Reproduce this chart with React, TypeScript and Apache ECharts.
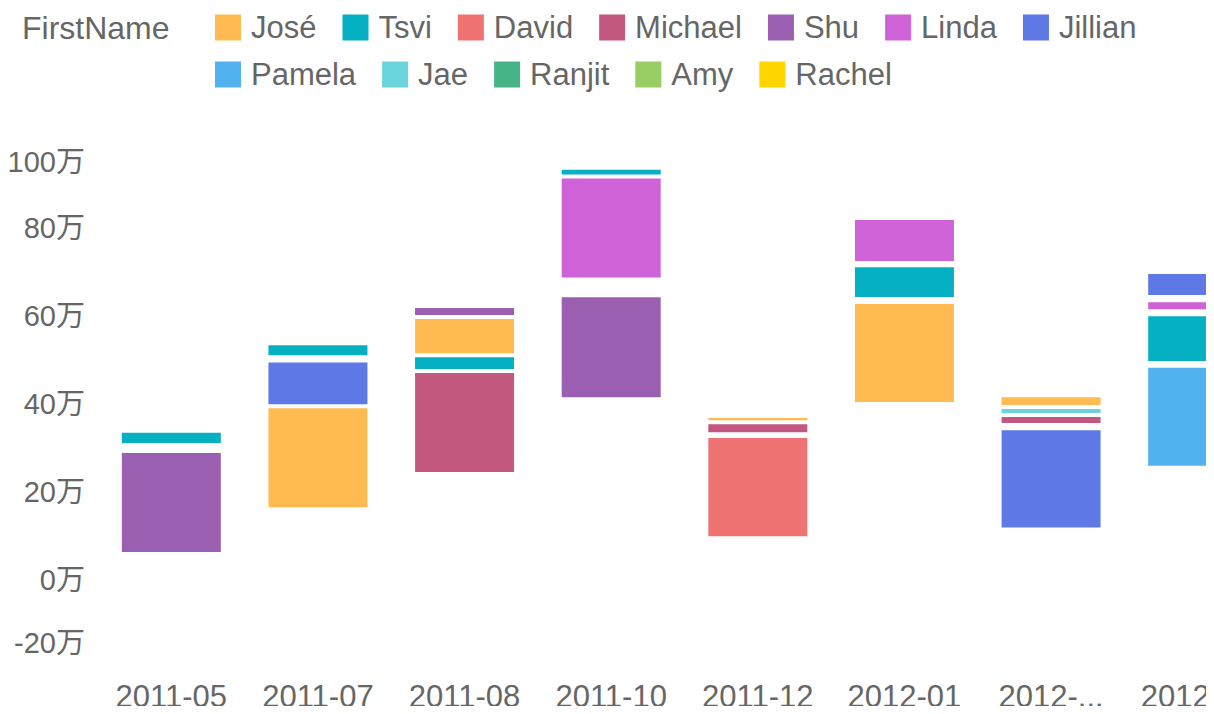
import React, { useEffect, useRef } from "react";
import * as echarts from "echarts";

const categories = ["2011-05", "2011-07", "2011-08", "2011-10", "2011-12", "2012-01", "2012-...", "2012-03"];

const persons = ["José", "Tsvi", "David", "Michael", "Shu", "Linda", "Jillian", "Pamela", "Jae", "Ranjit", "Amy", "Rachel"];
const personColors = ["#FFBB52", "#04B0C2", "#EF7373", "#C2577F", "#9A5FB1", "#CF62D6", "#5E78E6", "#52B1EF", "#6BD3DC", "#47B488", "#97CD62", "#FFD600"];

const legendRow1 = ["José", "Tsvi", "David", "Michael", "Shu", "Linda", "Jillian"];
const legendRow2 = ["Pamela", "Jae", "Ranjit", "Amy", "Rachel"];

const GAP = "gap";

// hidden offset under each stacked column (万)
const baseValues = [5.9, 16.1, 24.1, 41.1, 9.5, 40.0, 11.5, 25.5];

// stacked segments, bottom to top (万)
const stack_2011_05: [string, number][] = [["Shu", 23.4], [GAP, 1.4], ["Tsvi", 3.2]];
const stack_2011_07: [string, number][] = [["José", 23.4], ["Jillian", 10.4], [GAP, 0.7], ["Tsvi", 3.2]];
const stack_2011_08: [string, number][] = [["Michael", 23.4], ["Tsvi", 3.6], ["José", 8.7], ["Shu", 2.5]];
const stack_2011_10: [string, number][] = [["Shu", 23.6], [GAP, 3.6], ["Linda", 23.4], ["Tsvi", 2.0]];
const stack_2011_12: [string, number][] = [["David", 23.2], [GAP, 0.45], ["Michael", 2.7], ["José", 1.4]];
const stack_2012_01: [string, number][] = [["José", 23.2], [GAP, 0.65], ["Tsvi", 7.7], [GAP, 0.5], ["Linda", 10.2]];
const stack_2012_x: [string, number][] = [["Jillian", 23.0], [GAP, 0.7], ["Michael", 2.3], ["Jae", 1.8], ["José", 2.7]];
const stack_2012_03: [string, number][] = [["Pamela", 23.2], [GAP, 0.6], ["Tsvi", 11.1], [GAP, 0.7], ["Linda", 2.5], [GAP, 0.7], ["Jillian", 5.7]];

const stacks = [stack_2011_05, stack_2011_07, stack_2011_08, stack_2011_10, stack_2011_12, stack_2012_01, stack_2012_x, stack_2012_03];

const yTicks = { min: -200000, max: 1000000, interval: 200000 };

const FONT = "'Liberation Sans', 'Noto Sans CJK SC', sans-serif";
const TEXT_COLOR = "#666";

export default function App() {
  const ref = useRef<HTMLDivElement>(null);

  useEffect(() => {
    if (!ref.current) return;
    const chart = echarts.init(ref.current, null, { renderer: "svg" });
    const colorOf = (n: string) => personColors[persons.indexOf(n)];
    const maxSlots = Math.max(...stacks.map((s) => s.length));
    const BAR_W = 103;

    const series: any[] = [];
    series.push({
      name: "_base",
      type: "bar",
      stack: "all",
      barWidth: BAR_W,
      silent: true,
      itemStyle: { color: "transparent" },
      data: baseValues.map((v) => v * 10000),
    });
    for (let k = 0; k < maxSlots; k++) {
      series.push({
        name: "_slot" + k,
        type: "bar",
        stack: "all",
        barWidth: BAR_W,
        data: stacks.map((s) => {
          const seg = s[k];
          if (!seg) return "-";
          const [who, v] = seg;
          if (who === GAP) {
            return { value: v * 10000, itemStyle: { color: "transparent", borderWidth: 0 } };
          }
          return {
            value: v * 10000,
            name: who,
            itemStyle: { color: colorOf(who), borderColor: "#fff", borderWidth: 2 },
          };
        }),
      });
    }
    persons.forEach((p, i) => {
      series.push({
        name: p,
        type: "bar",
        stack: "all",
        barWidth: BAR_W,
        itemStyle: { color: personColors[i] },
        data: [],
      });
    });

    const legendCommon = {
      orient: "horizontal",
      left: 207,
      padding: 0,
      itemWidth: 26,
      itemHeight: 26,
      itemGap: 26,
      icon: "rect",
      selectedMode: false,
      textStyle: { fontSize: 31, color: TEXT_COLOR, fontFamily: FONT, padding: [0, 0, 0, 5] },
    };

    const option: any = {
      animation: false,
      color: personColors,
      title: {
        text: "FirstName",
        left: 14,
        top: 4,
        padding: 0,
        textStyle: { fontSize: 32, fontWeight: "normal", color: TEXT_COLOR, fontFamily: FONT },
      },
      legend: [
        { ...legendCommon, top: 4, data: legendRow1 },
        { ...legendCommon, top: 51, data: legendRow2 },
      ],
      grid: { left: 90, right: -65, top: 132, bottom: 46, containLabel: false, outerBoundsMode: "none" },
      xAxis: {
        type: "category",
        data: categories,
        axisLine: { show: false },
        axisTick: { show: false },
        axisLabel: { fontSize: 31, color: TEXT_COLOR, fontFamily: FONT, margin: 13, interval: 0 },
      },
      yAxis: {
        type: "value",
        min: yTicks.min,
        max: yTicks.max,
        interval: yTicks.interval,
        splitLine: { show: false },
        axisLine: { show: false },
        axisTick: { show: false },
        axisLabel: {
          fontSize: 29,
          color: TEXT_COLOR,
          fontFamily: FONT,
          margin: 13,
          formatter: (v: number) => {
            const t = v / 10000 + "万";
            if (v === yTicks.max) return "{top|" + t + "}";
            if (v === yTicks.min) return "{bot|" + t + "}";
            return t;
          },
          rich: {
            top: { fontSize: 29, color: TEXT_COLOR, fontFamily: FONT, padding: [44, 0, 0, 0] },
            bot: { fontSize: 29, color: TEXT_COLOR, fontFamily: FONT, padding: [0, 0, 50, 0] },
          },
        },
      },
      series,
    };
    chart.setOption(option);
    return () => chart.dispose();
  }, []);

  return <div ref={ref} style={{ width: 1198, height: 706, marginBottom: -8 }} />;
}
